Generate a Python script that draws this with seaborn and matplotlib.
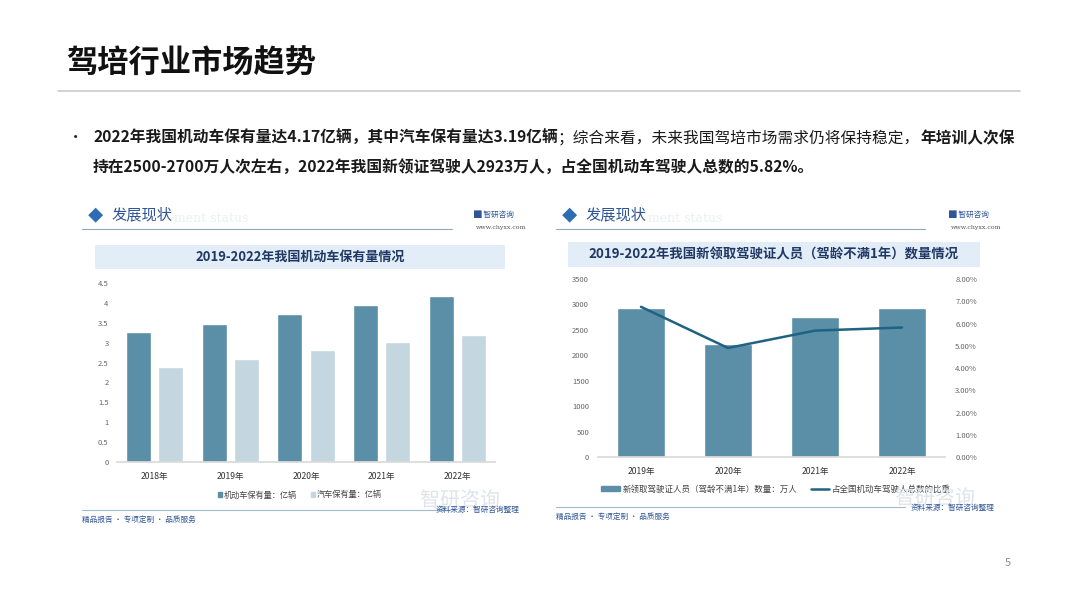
import numpy as np
import pandas as pd
import matplotlib
matplotlib.use('Agg')
import matplotlib.pyplot as plt
import seaborn as sns
from matplotlib.patches import Rectangle, Patch, PathPatch
from matplotlib.lines import Line2D
from matplotlib.ticker import PercentFormatter
from matplotlib.textpath import TextPath
from matplotlib.font_manager import FontProperties
from matplotlib.transforms import Affine2D

# Data - left chart (亿辆)
years_left = ['2018年', '2019年', '2020年', '2021年', '2022年']
motor_vehicles = [3.27, 3.48, 3.72, 3.95, 4.17]
cars = [2.40, 2.60, 2.81, 3.02, 3.19]
left_series = ['机动车保有量：亿辆', '汽车保有量：亿辆']

# Data - right chart
years_right = ['2019年', '2020年', '2021年', '2022年']
new_drivers = [2931, 2231, 2750, 2923]          # 万人
share_pct = [6.75, 4.90, 5.68, 5.82]             # %
right_series = ['新领取驾驶证人员（驾龄不满1年）数量：万人', '占全国机动车驾驶人总数的比重']

sns.set_theme(style='white')
plt.rcParams['font.family'] = ['Noto Sans CJK SC', 'DejaVu Sans']
plt.rcParams['axes.unicode_minus'] = False

W, H = 1080, 608
fig = plt.figure(figsize=(W / 100, H / 100), dpi=100)
fig.patch.set_facecolor('white')
renderer = fig.canvas.get_renderer()

BLUE_DARK = '#5b8ea7'
BLUE_LIGHT = '#c4d6df'
LINE_COL = '#1f6281'
NAVY = '#2f5597'


def fx(x):
    return x / W


def fy(y):
    return 1 - y / H


def ax_rect(x0, x1, ytop, ybot):
    return [fx(x0), fy(ybot), (x1 - x0) / W, (ybot - ytop) / H]


# Slide title and rule
fig.text(fx(66), fy(64), '驾培行业市场趋势', fontsize=22.5, fontweight='bold',
         color='#111111', va='center', ha='left')
fig.add_artist(Line2D([fx(58), fx(1020)], [fy(91), fy(91)], color='#cfcfcf', lw=1.3))

# Bullet text with bold / regular pieces
fig.text(fx(68), fy(138), '•', fontsize=11, color='#222222', va='center', ha='left')


def seg(x, y, s, bold):
    t = fig.text(fx(x), fy(y), s, fontsize=11.3, color='#1a1a1a', va='center', ha='left',
                 fontweight='bold' if bold else 'normal')
    return t.get_window_extent(renderer).x1


x = seg(93, 138, '2022年我国机动车保有量达4.17亿辆，其中汽车保有量达3.19亿辆', True)
x = seg(x, 138, '；综合来看，未来我国驾培市场需求仍将保持稳定，', False)
seg(x, 138, '年培训人次保', True)
seg(93, 167, '持在2500-2700万人次左右，2022年我国新领证驾驶人2923万人，占全国机动车驾驶人总数的5.82%。', True)

# Page number
fig.text(fx(1008), fy(563), '5', fontsize=8, color='#8c8c8c', va='center', ha='center')

wm_font = FontProperties(family='Noto Sans CJK SC')


def watermark(x, y, size):
    # faint logo mark of the source image, drawn as a shape
    path = TextPath((0, 0), '智研咨询', size=size, prop=wm_font)
    patch = PathPatch(path, color='#dfe4ea', lw=0,
                      transform=Affine2D().translate(x, H - y))
    fig.add_artist(patch)


def panel_frame(left, hdr_line_end, logo_x, title_box, title, title_size,
                bottom_line, footer_y, source_x, source_y, wm_x, wm_y):
    # header
    fig.text(fx(left + 13), fy(216), '◆', fontsize=11, color='#2e6db4', va='center', ha='center')
    fig.text(fx(left + 30), fy(215), '发展现状', fontsize=11, color=NAVY, va='center', ha='left')
    fig.text(fx(left + 92), fy(218), 'ment status', fontsize=9, color='#eceff3',
             va='center', ha='left', family='DejaVu Serif')
    fig.add_artist(Line2D([fx(left), fx(hdr_line_end)], [fy(229), fy(229)],
                          color='#8ea9ba', lw=0.8))
    fig.text(fx(logo_x), fy(215), '█ 智研咨询', fontsize=5.5, color=NAVY, va='center', ha='left')
    fig.text(fx(logo_x + 2), fy(228), 'www.chyxx.com', fontsize=4.5, color='#555555',
             va='center', ha='left', family='DejaVu Serif')
    # title box
    bx0, bx1, by0, by1 = title_box
    fig.add_artist(Rectangle((fx(bx0), fy(by1)), (bx1 - bx0) / W, (by1 - by0) / H,
                             color='#e2edf7', lw=0))
    fig.text(fx((bx0 + bx1) / 2), fy((by0 + by1) / 2), title, fontsize=title_size,
             fontweight='bold', color='#203864', va='center', ha='center')
    # footer
    lx0, lx1, ly = bottom_line
    watermark(wm_x, wm_y, 20)
    fig.add_artist(Line2D([fx(lx0), fx(lx1)], [fy(ly), fy(ly)], color='#9fbccc', lw=0.8))
    fig.text(fx(lx0), fy(footer_y), '精品报告 · 专项定制 · 品质服务', fontsize=5.5,
             color=NAVY, va='center', ha='left')
    fig.text(fx(source_x), fy(source_y), '资料来源：智研咨询整理', fontsize=5.5,
             color=NAVY, va='center', ha='right')


panel_frame(82, 452, 474, (95, 505, 245, 269), '2019-2022年我国机动车保有量情况', 9.4,
            (82, 450, 510), 520, 520, 510, 420, 506)
panel_frame(556, 925, 949, (568, 980, 242, 267),
            '2019-2022年我国新领取驾驶证人员（驾龄不满1年）数量情况', 9.6,
            (556, 905, 507), 517, 995, 508, 895, 504)

# Left chart: grouped bars
df_left = pd.DataFrame({
    'year': years_left * 2,
    'value': motor_vehicles + cars,
    'series': [left_series[0]] * len(years_left) + [left_series[1]] * len(years_left),
})
ax1 = fig.add_axes(ax_rect(117, 495, 283, 462))
ax1.patch.set_alpha(0)
sns.barplot(data=df_left, x='year', y='value', hue='series', ax=ax1,
            palette=[BLUE_DARK, BLUE_LIGHT], width=0.85, gap=0.22,
            saturation=1, legend=False, errorbar=None)
ax1.set_ylim(0, 4.5)
ax1.set_xlim(-0.5, len(years_left) - 0.5)
ax1.set_yticks(np.arange(0, 4.51, 0.5))
ax1.set_yticklabels(['0', '0.5', '1', '1.5', '2', '2.5', '3', '3.5', '4', '4.5'])
ax1.set_xlabel('')
ax1.set_ylabel('')
for s in ['top', 'right', 'left']:
    ax1.spines[s].set_visible(False)
ax1.spines['bottom'].set_color('#d9d9d9')
ax1.tick_params(axis='y', labelsize=5.5, labelcolor='#666666', length=0, pad=6)
ax1.tick_params(axis='x', labelsize=6.2, labelcolor='#333333', length=0, pad=7)
leg1 = ax1.legend(handles=[Patch(color=BLUE_DARK, label=left_series[0]),
                           Patch(color=BLUE_LIGHT, label=left_series[1])],
                  loc='center', bbox_to_anchor=(fx(300), fy(495)),
                  bbox_transform=fig.transFigure, ncol=2, frameon=False,
                  fontsize=5.9, handlelength=0.45, handleheight=0.45,
                  handletextpad=0.2, columnspacing=1.8)
for t in leg1.get_texts():
    t.set_color('#444444')

# Right chart: bars + share line on twin axis
df_right = pd.DataFrame({'year': years_right, 'drivers': new_drivers, 'share': share_pct})
ax2 = fig.add_axes(ax_rect(597.5, 945.5, 279, 457))
ax2.patch.set_alpha(0)
sns.barplot(data=df_right, x='year', y='drivers', ax=ax2, color=BLUE_DARK,
            width=0.56, saturation=1, errorbar=None)
ax2.set_ylim(0, 3500)
ax2.set_xlim(-0.5, len(years_right) - 0.5)
ax2.set_yticks(np.arange(0, 3501, 500))
ax2.set_xlabel('')
ax2.set_ylabel('')
for s in ['top', 'right', 'left']:
    ax2.spines[s].set_visible(False)
ax2.spines['bottom'].set_color('#d9d9d9')
ax2.tick_params(axis='y', labelsize=5.5, labelcolor='#666666', length=0, pad=6)
ax2.tick_params(axis='x', labelsize=6.2, labelcolor='#333333', length=0, pad=7)

ax3 = ax2.twinx()
sns.lineplot(x=np.arange(len(years_right)), y=df_right['share'], ax=ax3,
             color=LINE_COL, linewidth=1.8)
ax3.set_ylim(0, 8)
ax3.set_yticks(np.arange(0, 8.01, 1))
ax3.yaxis.set_major_formatter(PercentFormatter(xmax=100, decimals=2))
ax3.set_ylabel('')
for s in ['top', 'right', 'left', 'bottom']:
    ax3.spines[s].set_visible(False)
ax3.tick_params(axis='y', labelsize=5.5, labelcolor='#666666', length=0, pad=7)

leg2 = ax2.legend(handles=[Patch(color=BLUE_DARK, label=right_series[0]),
                           Line2D([0], [0], color=LINE_COL, lw=1.8, label=right_series[1])],
                  loc='center', bbox_to_anchor=(fx(776), fy(489)),
                  bbox_transform=fig.transFigure, ncol=2, frameon=False,
                  fontsize=6.1, handlelength=2.2, handleheight=0.5,
                  handletextpad=0.3, columnspacing=1.6)
for t in leg2.get_texts():
    t.set_color('#444444')

fig.savefig('out.png', dpi=100)
